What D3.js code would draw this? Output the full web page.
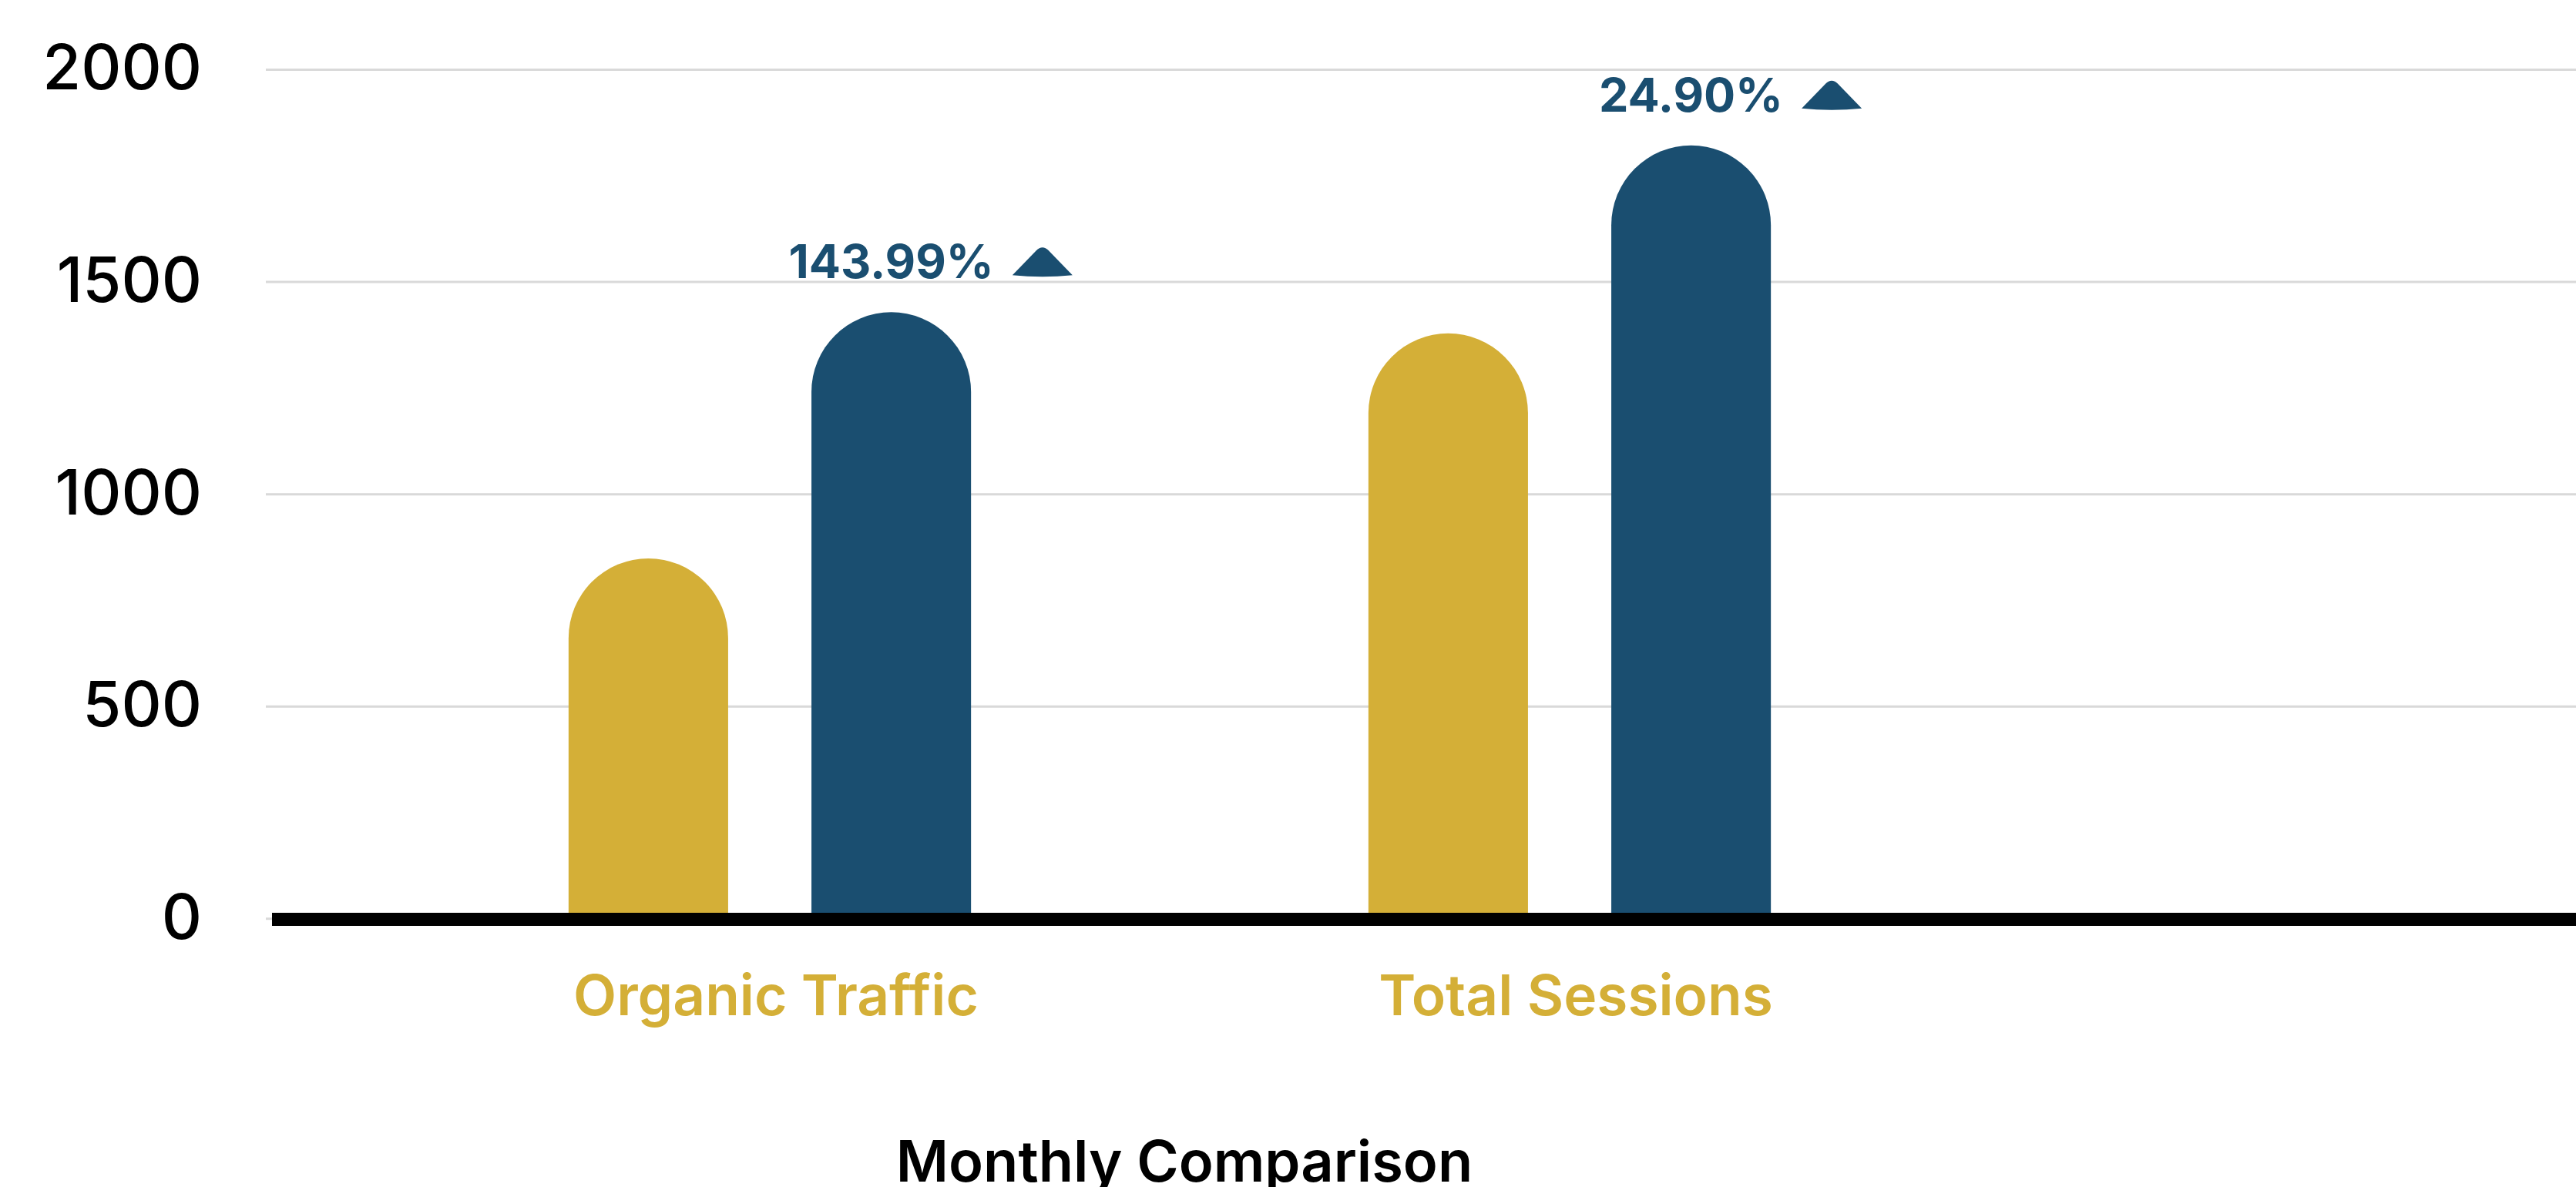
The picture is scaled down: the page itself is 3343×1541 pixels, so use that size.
<!DOCTYPE html>
<html><head><meta charset="utf-8">
<script src="https://cdn.jsdelivr.net/npm/d3@7"></script>
<style>html,body{margin:0;padding:0;background:#fff;overflow:hidden}</style>
</head><body><svg id="chart"></svg>
<script>
const categories = ["Organic Traffic", "Total Sessions"];
const seriesNames = ["Previous Month", "Current Month"];
const previousValues = [848, 1378];
const currentValues = [1428, 1821];
const changeLabels = ["143.99%", "24.90%"];
const yTicks = [0, 500, 1000, 1500, 2000];
const chartTitle = "Monthly Comparison";

const W = 3343, H = 1541;
const FONT = "Inter, 'Open Sans', 'Noto Sans', sans-serif";
const GOLD = "#d4af37", BLUE = "#1a4e70";
const svg = d3.select("#chart").attr("width", W).attr("height", H)
  .style("font-family", FONT);
svg.append("rect").attr("width", W).attr("height", H).attr("fill", "#fff");

const y = d3.scaleLinear().domain([0, 2000]).range([1192.3, 90]);
const x0 = d3.scaleBand().domain(categories).range([480, 480 + 2 * 1038]).padding(0);
const x1 = d3.scaleBand().domain(seriesNames).range([0, x0.bandwidth()])
  .paddingInner(0.343).paddingOuter(0.818);
const color = d3.scaleOrdinal().domain(seriesNames).range([GOLD, BLUE]);

// grid + y labels
const gridLeft = 345;
const yAxis = svg.append("g").attr("transform", `translate(${gridLeft},0)`)
  .call(d3.axisLeft(y).tickValues(yTicks).tickSize(-(W - gridLeft)).tickPadding(83).tickFormat(d3.format("d")));
yAxis.select(".domain").remove();
yAxis.selectAll(".tick line").attr("stroke", "#d9d9d9").attr("stroke-width", 3);
yAxis.selectAll(".tick text").attr("fill", "#000").attr("font-size", 81)
  .attr("font-weight", 500).attr("font-family", FONT);

// bars
const rows = categories.map((c, i) => ({cat: c, vals: [
  {s: seriesNames[0], v: previousValues[i]},
  {s: seriesNames[1], v: currentValues[i]}]}));

function barPath(xl, w, top, base) {
  const r = w / 2;
  return `M${xl},${base} L${xl},${top + r} A${r},${r} 0 0 1 ${xl + w},${top + r} L${xl + w},${base} Z`;
}

const groups = svg.append("g").selectAll("g").data(rows).join("g")
  .attr("transform", d => `translate(${x0(d.cat)},0)`);
groups.selectAll("path").data(d => d.vals).join("path")
  .attr("d", d => barPath(x1(d.s), x1.bandwidth(), y(d.v), y(0)))
  .attr("fill", d => color(d.s));

// baseline
svg.append("line").attr("x1", 353).attr("x2", W)
  .attr("y1", y(0) + 1.2).attr("y2", y(0) + 1.2)
  .attr("stroke", "#000").attr("stroke-width", 17);

// x labels
svg.append("g").selectAll("text").data(categories).join("text")
  .attr("x", d => x0(d) + x0.bandwidth() / 2 + 8)
  .attr("y", 1318)
  .attr("text-anchor", "middle")
  .attr("fill", GOLD).attr("font-size", 73).attr("font-weight", 600)
  .text(d => d);

// change annotations
categories.forEach((c, i) => {
  const cx = x0(c) + x1(seriesNames[1]) + x1.bandwidth() / 2;
  const base = y(currentValues[i]) - 44;
  const t = svg.append("text").attr("x", cx).attr("y", base)
    .attr("text-anchor", "middle").attr("fill", BLUE)
    .attr("font-size", 61).attr("font-weight", 700)
    .text(changeLabels[i]);
  const tw = t.node().getComputedTextLength();
  const tx = cx + tw / 2 + 24;
  svg.append("path")
    .attr("d", "M0,37 L31,5 Q39,-3 47,5 L78,37 Q39,41 0,37 Z")
    .attr("transform", `translate(${tx},${base - 41})`)
    .attr("fill", BLUE);
});

// title
svg.append("text").attr("x", 1537).attr("y", 1534)
  .attr("text-anchor", "middle").attr("fill", "#000")
  .attr("font-size", 74).attr("font-weight", 600)
  .text(chartTitle);
</script>
</body></html>
